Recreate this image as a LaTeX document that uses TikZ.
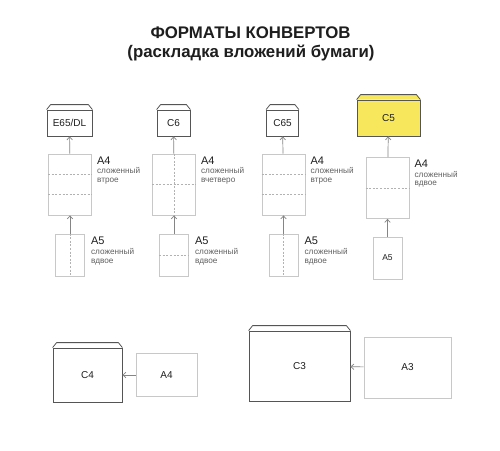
\documentclass[tikz,border=0pt]{standalone}
\usepackage{fontspec}
\setmainfont{Liberation Sans}
\usetikzlibrary{arrows.meta, positioning, calc}
\definecolor{ink}      {HTML}{1E1E1E}
\definecolor{edge}     {HTML}{555555}
\definecolor{paper}    {HTML}{C8C8C8}
\definecolor{foldclr}  {HTML}{B2B2B2}
\definecolor{arrowgray}{HTML}{858585}
\definecolor{hilite}   {HTML}{F6E75C}

\begin{document}
\begin{tikzpicture}[
  x=1pt, y=-1pt,
  env/.style  ={draw=edge, line width=0.8pt, fill=white, inner sep=0pt,
                minimum width=#1, minimum height=26pt, text=ink,
                font=\fontsize{10}{12}\selectfont},
  sheet/.style={draw=paper, line width=0.8pt, fill=white, inner sep=0pt,
                minimum width=43pt, minimum height=61pt, text=ink,
                font=\fontsize{10}{12}\selectfont},
  half/.style ={sheet, minimum width=29pt, minimum height=42pt},
  foldln/.style={draw=foldclr, line width=0.5pt, dash pattern=on 2pt off 1.6pt},
  feed/.style ={draw=arrowgray, line width=0.7pt,
                -{Straight Barb[length=3pt, width=5.5pt]}},
  big/.style  ={font=\fontsize{11}{12}\selectfont, text=ink,
                anchor=north west, inner sep=0pt},
  small/.style={font=\fontsize{8.2}{8.6}\selectfont, text=ink!70,
                anchor=north west, align=left, inner sep=0pt},
]
  \useasboundingbox[fill=white] (0,0) rectangle (500,450);

  % --- title -----------------------------------------------------
  \node[font=\fontsize{16.8}{19}\bfseries, text=ink] (t1) at (250.5,33)
    {ФОРМАТЫ КОНВЕРТОВ};
  \node[font=\fontsize{16.8}{19}\bfseries, text=ink] (t2) at (251,53)
    {(раскладка вложений бумаги)};

  % --- envelopes -------------------------------------------------
  \node[env=45pt] (dl)  at (69.5,123)  {E65/DL};
  \node[env=33pt] (c6)  at (173.5,123) {C6};
  \node[env=32pt] (c65) at (282.5,123) {C65};
  \node[env=63pt, minimum height=36pt, fill=hilite] (c5) at (388.5,118) {C5};

  % --- sheets and halves -----------------------------------------
  \foreach \i/\x in {1/70, 2/174, 3/283.5}
    \node[sheet] (sheet\i) at (\x,184.5) {};
  \node[sheet] (sheet4) at (387.5,188) {};
  \foreach \i/\x in {1/70, 2/174, 3/283.5}
    \node[half] (half\i) at (\x,255) {};
  \node[half, font=\fontsize{8.5}{10}\selectfont] (half4) at (387.5,258) {A5};

  % folds
  \foreach \i in {1,3} {
    \draw[foldln] ($(sheet\i.north west)!0.34!(sheet\i.south west)$)
               -- ($(sheet\i.north east)!0.34!(sheet\i.south east)$);
    \draw[foldln] ($(sheet\i.north west)!0.66!(sheet\i.south west)$)
               -- ($(sheet\i.north east)!0.66!(sheet\i.south east)$);
    \draw[foldln] (half\i.north) -- (half\i.south);
  }
  \draw[foldln] (sheet2.west) -- (sheet2.east);
  \draw[foldln] (sheet2.north) -- (sheet2.south);
  \draw[foldln] (half2.west) -- (half2.east);
  \draw[foldln] (sheet4.west) -- (sheet4.east);

  % --- labels ----------------------------------------------------
  \foreach \i/\how in {1/втрое, 2/вчетверо, 3/втрое, 4/вдвое} {
    \node[big] (la\i) at ([xshift=5pt, yshift=-3pt]sheet\i.north east) {A4};
    \node[small] (sa\i) at ([yshift=-3pt]la\i.south west) {сложенный\\\how};
  }
  \foreach \i in {1,2,3} {
    \node[big] (lb\i) at ([xshift=6pt, yshift=-3.5pt]half\i.north east) {A5};
    \node[small] (sb\i) at ([yshift=-3pt]lb\i.south west) {сложенный\\вдвое};
  }

  % --- bottom row ------------------------------------------------
  \node[env=69pt, minimum height=54pt] (c4) at (87.5,375) {C4};
  \node[sheet, minimum width=61pt, minimum height=43pt] (a4) at (166.5,375) {A4};
  \node[env=101pt, minimum height=70pt] (c3) at (299.5,366) {C3};
  \node[sheet, minimum width=87pt, minimum height=61pt] (a3) at (407.5,367.5) {A3};

  % flaps
  \foreach \e/\c in {dl/white, c6/white, c65/white, c5/hilite, c4/white, c3/white}
    \filldraw[draw=edge, fill=\c, line width=0.8pt, line join=round]
      (\e.north west) -- ([xshift=4pt, yshift=5pt]\e.north west)
      -- ([xshift=-4pt, yshift=5pt]\e.north east) -- (\e.north east);

  % --- what goes into what ---------------------------------------
  \foreach \n/\e in {1/dl, 2/c6, 3/c65, 4/c5} {
    \draw[feed] (half\n) -- (sheet\n);
    \draw[feed] (sheet\n) -- (\e);
  }
  \draw[feed] (a4) -- (c4);
  \draw[feed] (a3) -- (c3);
\end{tikzpicture}
\end{document}
